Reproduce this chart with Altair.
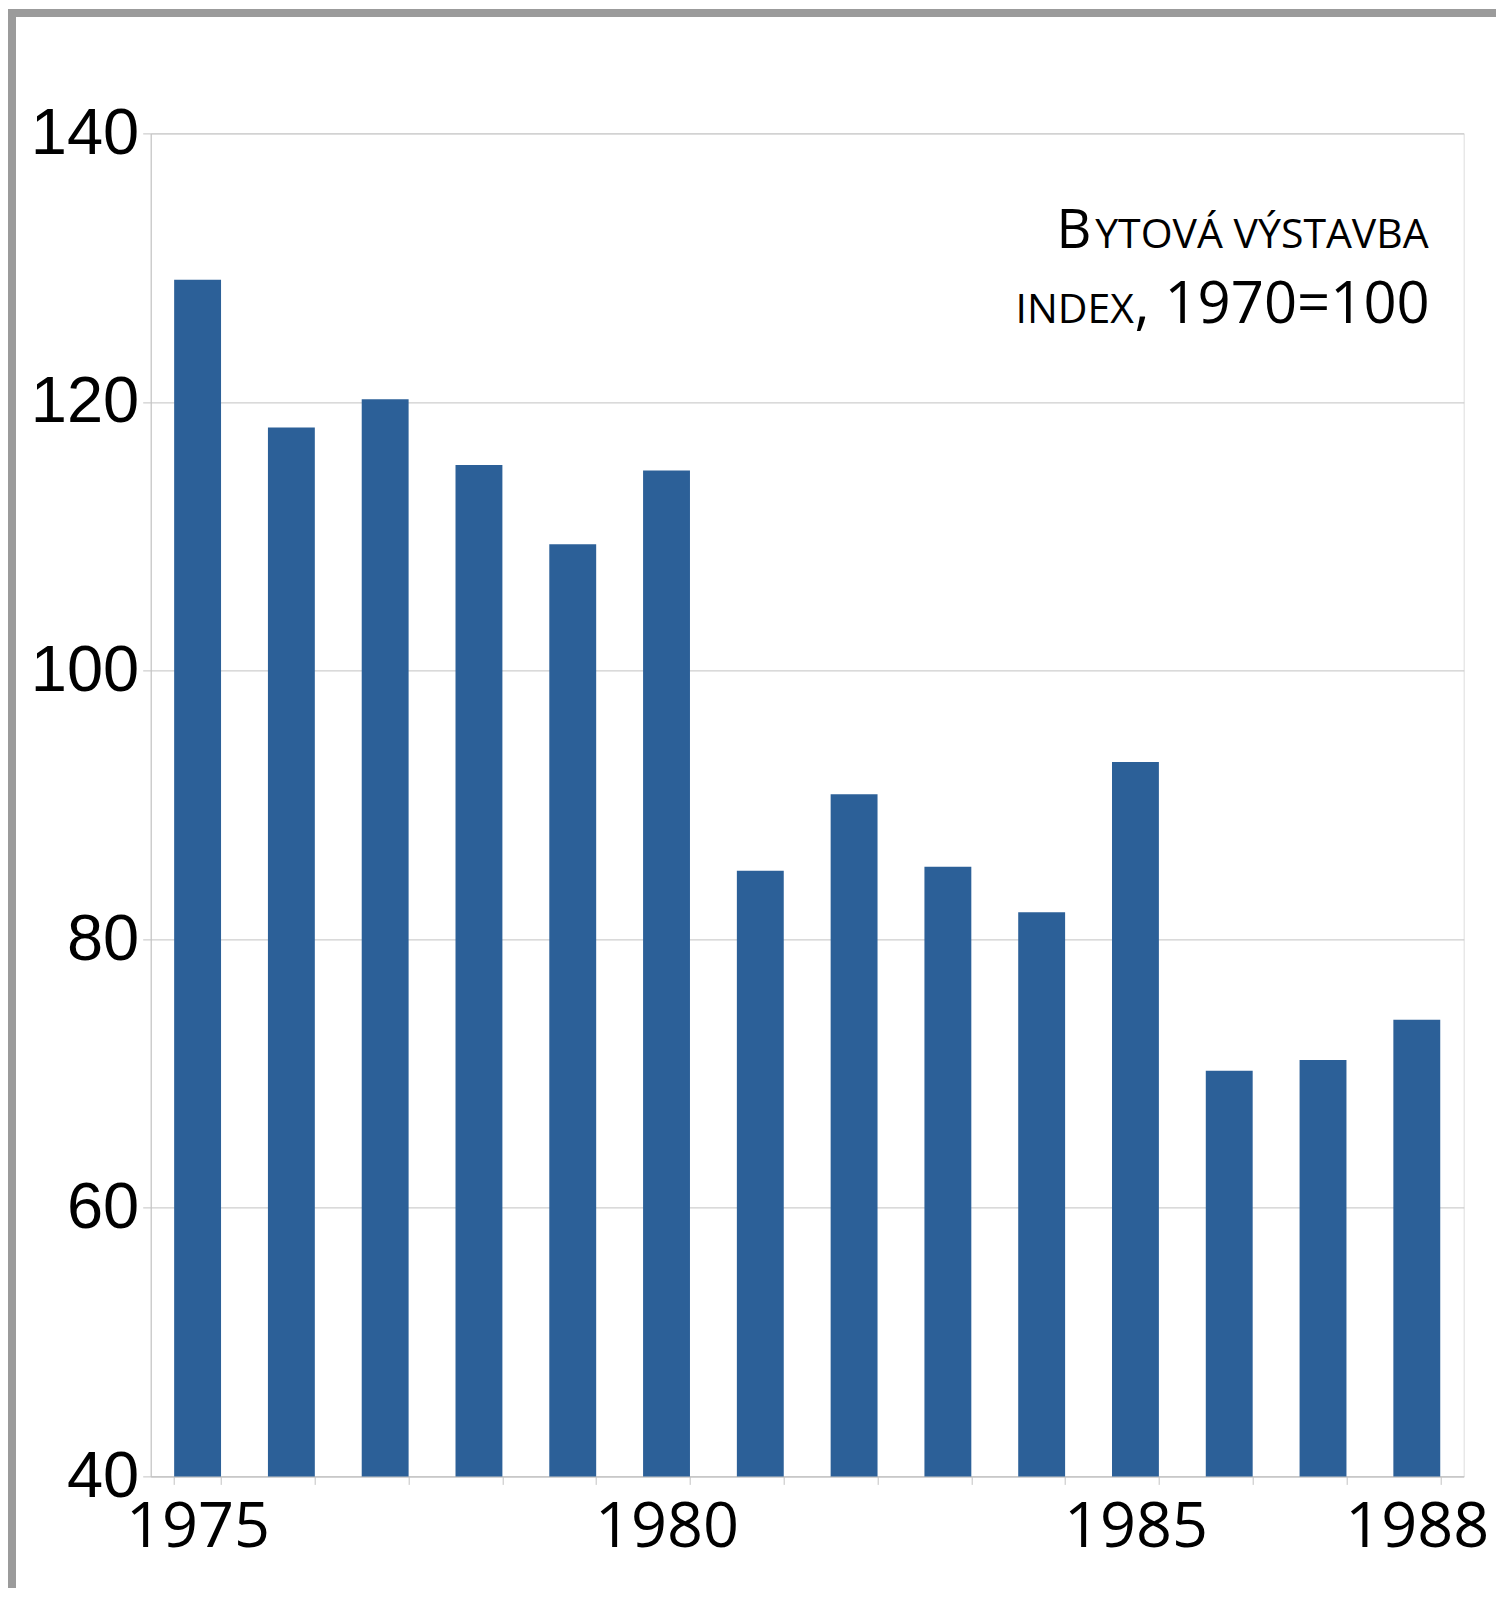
import altair as alt
import pandas as pd

years = [str(y) for y in range(1975, 1989)]
values = [129.1, 118.1, 120.2, 115.3, 109.4, 114.9, 85.1, 90.8, 85.4, 82.0, 93.2, 70.2, 71.0, 74.0]
y_ticks = [40, 60, 80, 100, 120, 140]
y_min, y_max = 40, 140
shown_years = ["1975", "1980", "1985", "1988"]

title_cap = "B"
title_rest = "YTOVÁ VÝSTAVBA"
sub_small = "INDEX"
sub_rest = ", 1970=100"

df = pd.DataFrame({"year": years, "value": values})

BAR = "#2c6098"
GRID = "#c2c2c2"
FRAME = "#9b9b9b"
W, H = 1313, 1343
PL, PT = 142.7, 125.4
PB = 112

label_expr = "indexof([" + ",".join("'%s'" % y for y in shown_years) + "], datum.label) >= 0 ? datum.label : ''"

bars = alt.Chart(df).mark_bar(color=BAR).encode(
    x=alt.X("year:O", sort=None,
            scale=alt.Scale(paddingInner=0.5, paddingOuter=0.25),
            axis=alt.Axis(title=None, labelAngle=0, labelExpr=label_expr,
                          labelFont="Open Sans", labelFontSize=63, labelColor="black",
                          labelPadding=12, tickBand="extent", tickSize=8,
                          tickColor=GRID, domainColor=GRID, grid=False)),
    y=alt.Y("value:Q",
            scale=alt.Scale(domain=[y_min, y_max], nice=False, zero=False),
            axis=alt.Axis(title=None, values=y_ticks, labelFont="Liberation Sans",
                          labelFontSize=65, labelColor="black", labelPadding=4,
                          tickSize=8, tickColor=GRID, domainColor=GRID,
                          grid=True, gridColor=GRID)),
    y2=alt.datum(y_min),
)

one = alt.Data(values=[{}])

def txt(s, x, y, size):
    return alt.Chart(one).mark_text(text=s, font="Open Sans", fontSize=size,
                                    align="right", baseline="alphabetic",
                                    color="black").encode(x=alt.value(x), y=alt.value(y))

t1 = txt(title_cap, 940.8, 114.3, 54)
t2 = txt(title_rest, 1278, 114.3, 41)
t3 = txt(sub_small, 983.3, 189.9, 41)
t4 = txt(sub_rest, 1279, 189.9, 58)

frame_top = alt.Chart(one).mark_rect(color=FRAME).encode(
    x=alt.value(-PL), x2=alt.value(1488 - PL), y=alt.value(1 - PT), y2=alt.value(9 - PT))
frame_left = alt.Chart(one).mark_rect(color=FRAME).encode(
    x=alt.value(-PL), x2=alt.value(8 - PL), y=alt.value(1 - PT), y2=alt.value(H + PB))

chart = alt.layer(bars, t1, t2, t3, t4, frame_top, frame_left).properties(
    width=W, height=H,
    autosize=alt.AutoSizeParams(type="none"),
    padding={"left": PL, "top": PT, "right": 1488 - PL - W, "bottom": PB},
).configure_view(stroke=GRID).configure(background="white")

chart.save("out.html", embed_options={"renderer": "svg", "actions": False})
